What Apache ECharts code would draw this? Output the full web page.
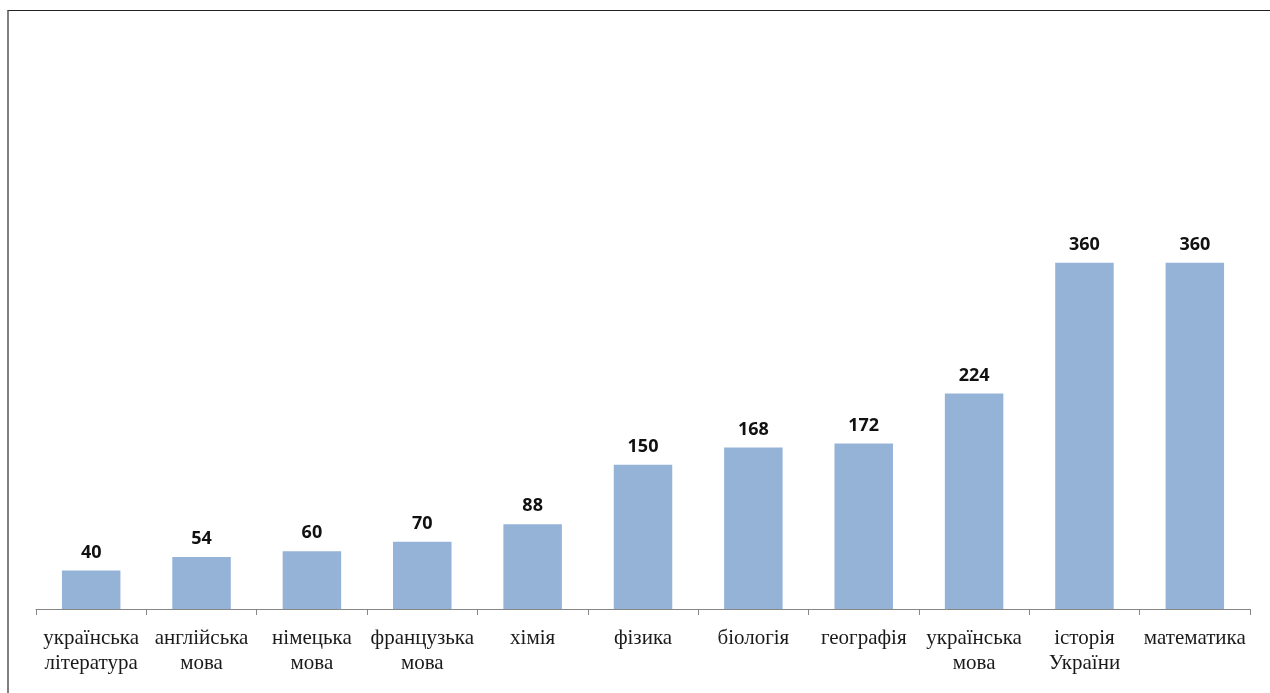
<!DOCTYPE html>
<html>
<head>
<meta charset="utf-8">
<script src="https://cdn.jsdelivr.net/npm/echarts@6/dist/echarts.min.js"></script>
<style>
html,body{margin:0;padding:0;background:#fff;}
#frame{position:absolute;left:7px;top:10px;width:1280px;height:700px;border-left:2px solid #7f7f7f;border-top:1px solid #222;box-sizing:border-box;}
#chart{position:absolute;left:0;top:0;width:1270px;height:693px;}
</style>
</head>
<body>
<div id="frame"></div>
<div id="chart"></div>
<script>
var subjects = ['українська\nлітература','англійська\nмова','німецька\nмова','французька\nмова','хімія','фізика','біологія','географія','українська\nмова','історія\nУкраїни','математика'];
var hours = [40,54,60,70,88,150,168,172,224,360,360];

var chart = echarts.init(document.getElementById('chart'));
var option = {
    animation:false,
    grid:{left:36,right:20,top:32,bottom:84,containLabel:false},
    xAxis:{
        type:'category',
        data:subjects,
        axisLine:{lineStyle:{color:'#868686',width:1}},
        axisTick:{show:true,length:6,lineStyle:{color:'#868686'}},
        axisLabel:{
            interval:0,
            margin:17,
            color:'#1a1a1a',
            fontFamily:'Liberation Serif',
            fontSize:21,
            lineHeight:25
        }
    },
    yAxis:{
        type:'value',
        min:0,
        max:600,
        show:false,
        splitLine:{show:false}
    },
    series:[{
        type:'bar',
        data:hours,
        barWidth:'53%',
        itemStyle:{color:'#95B3D7'},
        label:{
            show:true,
            position:'top',
            distance:9,
            color:'#111',
            fontFamily:'Open Sans',
            fontWeight:'bold',
            fontSize:18
        }
    }]
};
chart.setOption(option);
</script>
</body>
</html>
